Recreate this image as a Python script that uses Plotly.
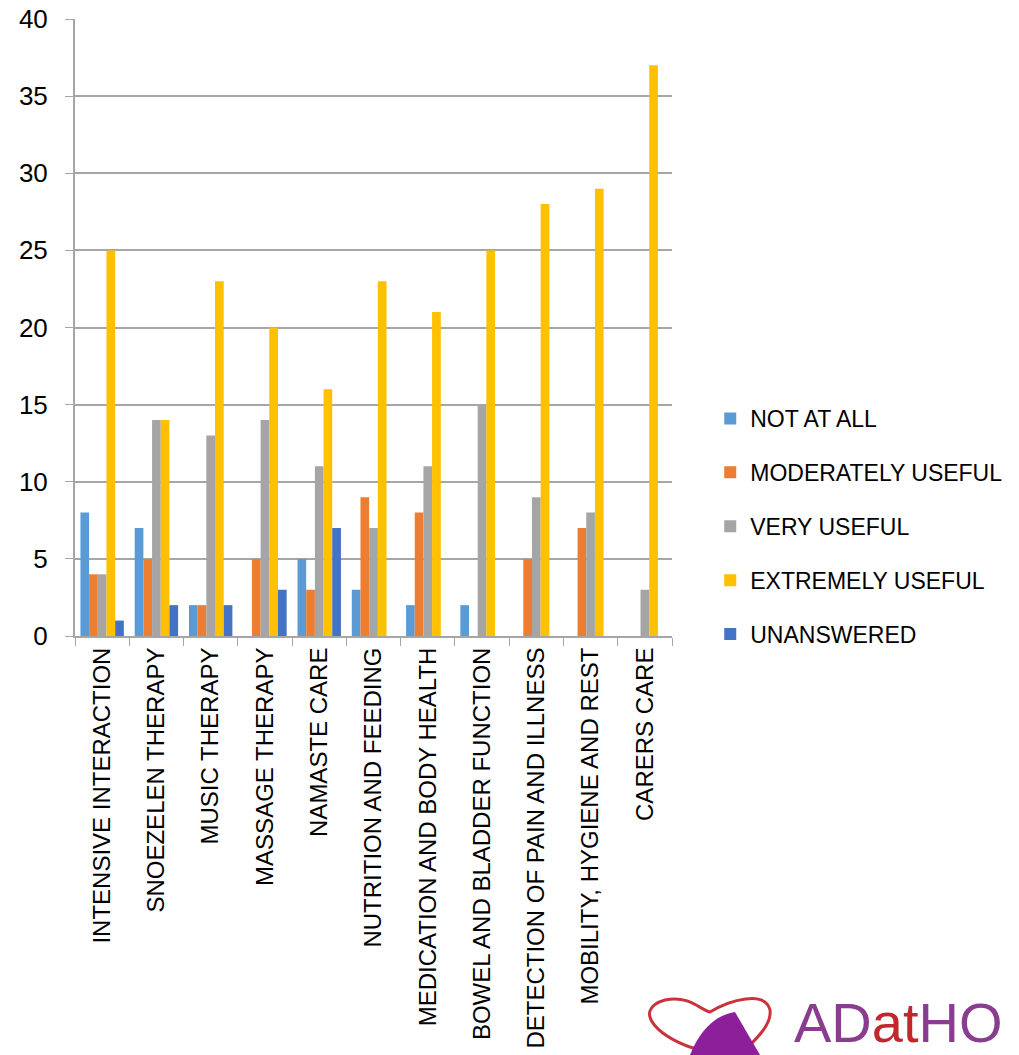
import plotly.graph_objects as go

categories = ["INTENSIVE INTERACTION", "SNOEZELEN THERAPY", "MUSIC THERAPY", "MASSAGE THERAPY",
              "NAMASTE CARE", "NUTRITION AND FEEDING", "MEDICATION AND BODY HEALTH",
              "BOWEL AND BLADDER FUNCTION", "DETECTION OF PAIN AND ILLNESS",
              "MOBILITY, HYGIENE AND REST", "CARERS CARE"]
not_at_all = [8, 7, 2, 0, 5, 3, 2, 2, 0, 0, 0]
moderately_useful = [4, 5, 2, 5, 3, 9, 8, 0, 5, 7, 0]
very_useful = [4, 14, 13, 14, 11, 7, 11, 15, 9, 8, 3]
extremely_useful = [25, 14, 23, 20, 16, 23, 21, 25, 28, 29, 37]
unanswered = [1, 2, 2, 3, 7, 0, 0, 0, 0, 0, 0]
y_ticks = [0, 5, 10, 15, 20, 25, 30, 35, 40]

series = [
    ("NOT AT ALL", not_at_all, "#5B9BD5"),
    ("MODERATELY USEFUL", moderately_useful, "#ED7D31"),
    ("VERY USEFUL", very_useful, "#A5A5A5"),
    ("EXTREMELY USEFUL", extremely_useful, "#FFC000"),
    ("UNANSWERED", unanswered, "#4472C4"),
]

fig = go.Figure()
for i, (name, vals, col) in enumerate(series):
    fig.add_trace(go.Bar(x=categories, y=vals, name=name, marker_color=col,
                         marker_line_width=0, legendgroup=f"g{i}"))

font = "Liberation Sans, Arial, sans-serif"
fig.update_layout(
    width=1019, height=1055,
    margin=dict(l=75, r=347, t=19, b=419, autoexpand=False),
    paper_bgcolor="white", plot_bgcolor="white",
    barmode="group", bargap=0.2, bargroupgap=0,
    font=dict(family=font, size=23, color="black"),
    showlegend=True,
    legend=dict(xref="container", yref="container", x=0.697, y=0.6237,
                xanchor="left", yanchor="top",
                traceorder="grouped", tracegroupgap=21,
                font=dict(size=23, family=font), itemwidth=30),
    xaxis=dict(tickangle=-90, showline=True, linecolor="#A6A6A6", linewidth=2,
               ticks="outside", tickson="boundaries", ticklen=8, tickcolor="#A6A6A6",
               tickfont=dict(size=24, family=font), automargin=False),
    yaxis=dict(range=[0, 40], tickvals=y_ticks, showgrid=True, gridcolor="#A6A6A6",
               gridwidth=2, showline=True, linecolor="#A6A6A6", linewidth=2,
               ticks="outside", ticklen=8, tickcolor="#A6A6A6", ticklabelstandoff=12,
               tickfont=dict(size=26, family=font), zeroline=False, automargin=False),
)


def px(xp):
    return (xp - 75) / 597


def py(yp):
    return (636 - yp) / 617


# logo
fig.add_annotation(xref="paper", yref="paper", x=px(792), y=py(1046),
                   xanchor="left", yanchor="bottom", yshift=-10, showarrow=False,
                   text="<span style='color:#8A3D8F'>AD</span><span style='color:#C2272D'>at</span>"
                        "<span style='color:#8A3D8F'>HO</span>",
                   font=dict(size=56, family=font))

heart = (f"M {px(700)} {py(1050)} C {px(660)} {py(1040)}, {px(630)} {py(1010)}, {px(665)} {py(1000)} "
         f"C {px(690)} {py(995)}, {px(700)} {py(1010)}, {px(710)} {py(1012)} "
         f"C {px(730)} {py(1000)}, {px(765)} {py(990)}, {px(770)} {py(1010)} "
         f"C {px(772)} {py(1025)}, {px(755)} {py(1040)}, {px(745)} {py(1050)}")
fig.add_shape(type="path", path=heart, xref="paper", yref="paper",
              line=dict(color="#C8343C", width=3))
swoosh = (f"M {px(690)} {py(1055)} C {px(700)} {py(1030)}, {px(715)} {py(1015)}, {px(735)} {py(1012)} "
          f"L {px(760)} {py(1055)} Z")
fig.add_shape(type="path", path=swoosh, xref="paper", yref="paper",
              fillcolor="#8E1F9B", line=dict(width=0))

fig.write_html("out.html")
